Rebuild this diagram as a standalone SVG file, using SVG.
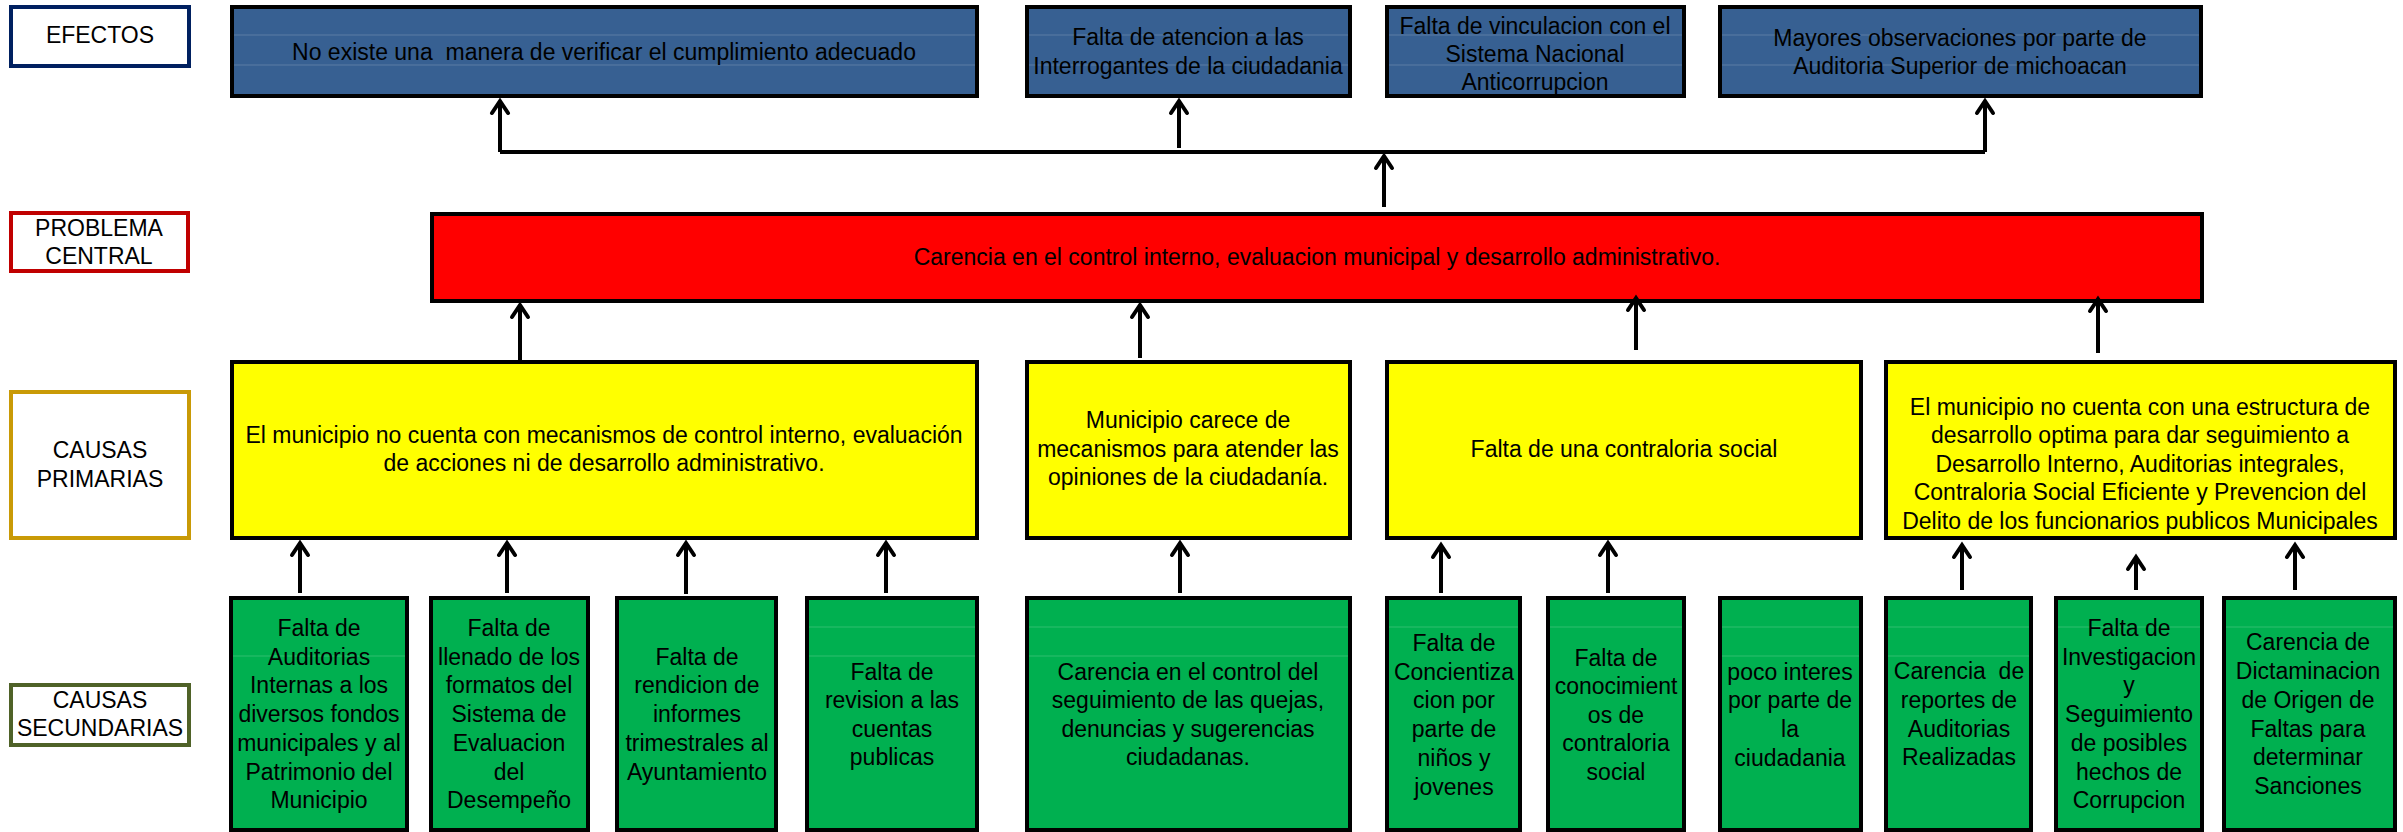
<svg xmlns="http://www.w3.org/2000/svg" width="2403" height="832" viewBox="0 0 2403 832">
<style>
text{font-family:"Liberation Sans",Arial,sans-serif;font-size:23px;fill:#000;text-anchor:middle}
.pre{white-space:pre}
.lbl{fill:#fff;stroke-width:4}
.eff{fill:#376092;stroke:#000;stroke-width:4}
.prob{fill:#ff0000;stroke:#000;stroke-width:4}
.prim{fill:#ffff00;stroke:#000;stroke-width:4}
.sec{fill:#00b050;stroke:#000;stroke-width:4}
.gl{stroke:#ffffff;stroke-opacity:0.12;stroke-width:1.5}
.con{stroke:#000;stroke-width:4;fill:none}
.arr{stroke:#000;stroke-width:4;fill:none;marker-end:url(#ah)}
</style>
<defs>
<marker id="ah" markerUnits="userSpaceOnUse" viewBox="-18 -12 22 24" markerWidth="22" markerHeight="24" refX="0" refY="0" orient="auto">
<path d="M -12 -8 L 0 0 L -12 8" fill="none" stroke="#000" stroke-width="4" stroke-linecap="round" stroke-linejoin="miter"/>
</marker>
</defs>
<rect width="2403" height="832" fill="#fff"/>

<!-- Row labels -->
<g id="lbl-efectos">
<rect class="lbl" x="11" y="7" width="178" height="59" stroke="#002060"/>
<text x="100" y="43">EFECTOS</text>
</g>
<g id="lbl-problema">
<rect class="lbl" x="11" y="213" width="177" height="58" stroke="#c00000"/>
<text x="99" y="236">PROBLEMA</text>
<text x="99" y="264">CENTRAL</text>
</g>
<g id="lbl-primarias">
<rect class="lbl" x="11" y="392" width="178" height="146" stroke="#c99a06"/>
<text x="100" y="458">CAUSAS</text>
<text x="100" y="487">PRIMARIAS</text>
</g>
<g id="lbl-secundarias">
<rect class="lbl" x="11" y="685" width="178" height="60" stroke="#4f6228"/>
<text x="100" y="708">CAUSAS</text>
<text x="100" y="736">SECUNDARIAS</text>
</g>

<!-- Effects -->
<g id="efecto1">
<rect class="eff" x="232" y="7" width="745" height="89"/>
<line class="gl" x1="234" y1="35" x2="975" y2="35"/><line class="gl" x1="234" y1="65" x2="975" y2="65"/>
<text class="pre" x="604" y="60">No existe una  manera de verificar el cumplimiento adecuado</text>
</g>
<g id="efecto2">
<rect class="eff" x="1027" y="7" width="323" height="89"/>
<line class="gl" x1="1029" y1="35" x2="1348" y2="35"/><line class="gl" x1="1029" y1="65" x2="1348" y2="65"/>
<text x="1188" y="45">Falta de atencion a las</text>
<text x="1188" y="74">Interrogantes de la ciudadania</text>
</g>
<g id="efecto3">
<rect class="eff" x="1387" y="7" width="297" height="89"/>
<line class="gl" x1="1389" y1="35" x2="1682" y2="35"/><line class="gl" x1="1389" y1="65" x2="1682" y2="65"/>
<text x="1535" y="34">Falta de vinculacion con el</text>
<text x="1535" y="62">Sistema Nacional</text>
<text x="1535" y="90">Anticorrupcion</text>
</g>
<g id="efecto4">
<rect class="eff" x="1720" y="7" width="481" height="89"/>
<line class="gl" x1="1722" y1="35" x2="2199" y2="35"/><line class="gl" x1="1722" y1="65" x2="2199" y2="65"/>
<text x="1960" y="46">Mayores observaciones por parte de</text>
<text x="1960" y="74">Auditoria Superior de michoacan</text>
</g>

<!-- Central problem -->
<g id="problema">
<rect class="prob" x="432" y="214" width="1770" height="87"/>
<text x="1317" y="265">Carencia en el control interno, evaluacion municipal y desarrollo administrativo.</text>
</g>

<!-- Primary causes -->
<g id="primaria1">
<rect class="prim" x="232" y="362" width="745" height="176"/>
<text x="604" y="443">El municipio no cuenta con mecanismos de control interno, evaluación</text>
<text x="604" y="471">de acciones ni de desarrollo administrativo.</text>
</g>
<g id="primaria2">
<rect class="prim" x="1027" y="362" width="323" height="176"/>
<text x="1188" y="428">Municipio carece de</text>
<text x="1188" y="457">mecanismos para atender las</text>
<text x="1188" y="485">opiniones de la ciudadanía.</text>
</g>
<g id="primaria3">
<rect class="prim" x="1387" y="362" width="474" height="176"/>
<text x="1624" y="457">Falta de una contraloria social</text>
</g>
<g id="primaria4">
<rect class="prim" x="1886" y="362" width="509" height="176"/>
<text x="2140" y="415">El municipio no cuenta con una estructura de</text>
<text x="2140" y="443">desarrollo optima para dar seguimiento a</text>
<text x="2140" y="472">Desarrollo Interno, Auditorias integrales,</text>
<text x="2140" y="500">Contraloria Social Eficiente y Prevencion del</text>
<text x="2140" y="529">Delito de los funcionarios publicos Municipales</text>
</g>

<!-- Secondary causes -->
<g id="secundaria1">
<rect class="sec" x="231" y="598" width="176" height="232"/>
<line class="gl" x1="233" y1="656" x2="405" y2="656"/>
<text x="319" y="636">Falta de</text>
<text x="319" y="665">Auditorias</text>
<text x="319" y="693">Internas a los</text>
<text x="319" y="722">diversos fondos</text>
<text x="319" y="751">municipales y al</text>
<text x="319" y="780">Patrimonio del</text>
<text x="319" y="808">Municipio</text>
</g>
<g id="secundaria2">
<rect class="sec" x="431" y="598" width="157" height="232"/>
<text x="509" y="636">Falta de</text>
<text x="509" y="665">llenado de los</text>
<text x="509" y="693">formatos del</text>
<text x="509" y="722">Sistema de</text>
<text x="509" y="751">Evaluacion</text>
<text x="509" y="780">del</text>
<text x="509" y="808">Desempeño</text>
</g>
<g id="secundaria3">
<rect class="sec" x="617" y="598" width="159" height="232"/>
<text x="697" y="665">Falta de</text>
<text x="697" y="693">rendicion de</text>
<text x="697" y="722">informes</text>
<text x="697" y="751">trimestrales al</text>
<text x="697" y="780">Ayuntamiento</text>
</g>
<g id="secundaria4">
<rect class="sec" x="807" y="598" width="170" height="232"/>
<line class="gl" x1="809" y1="627" x2="975" y2="627"/><line class="gl" x1="809" y1="656" x2="975" y2="656"/>
<text x="892" y="680">Falta de</text>
<text x="892" y="708">revision a las</text>
<text x="892" y="737">cuentas</text>
<text x="892" y="765">publicas</text>
</g>
<g id="secundaria5">
<rect class="sec" x="1027" y="598" width="323" height="232"/>
<line class="gl" x1="1029" y1="627" x2="1348" y2="627"/><line class="gl" x1="1029" y1="656" x2="1348" y2="656"/>
<text x="1188" y="680">Carencia en el control del</text>
<text x="1188" y="708">seguimiento de las quejas,</text>
<text x="1188" y="737">denuncias y sugerencias</text>
<text x="1188" y="765">ciudadanas.</text>
</g>
<g id="secundaria6">
<rect class="sec" x="1387" y="598" width="133" height="232"/>
<line class="gl" x1="1389" y1="627" x2="1518" y2="627"/>
<text x="1454" y="651">Falta de</text>
<text x="1454" y="680">Concientiza</text>
<text x="1454" y="708">cion por</text>
<text x="1454" y="737">parte de</text>
<text x="1454" y="766">niños y</text>
<text x="1454" y="795">jovenes</text>
</g>
<g id="secundaria7">
<rect class="sec" x="1548" y="598" width="136" height="232"/>
<line class="gl" x1="1550" y1="627" x2="1682" y2="627"/>
<text x="1616" y="666">Falta de</text>
<text x="1616" y="694">conocimient</text>
<text x="1616" y="723">os de</text>
<text x="1616" y="751">contraloria</text>
<text x="1616" y="780">social</text>
</g>
<g id="secundaria8">
<rect class="sec" x="1720" y="598" width="141" height="232"/>
<line class="gl" x1="1722" y1="627" x2="1859" y2="627"/><line class="gl" x1="1722" y1="656" x2="1859" y2="656"/>
<text x="1790" y="680">poco interes</text>
<text x="1790" y="708">por parte de</text>
<text x="1790" y="737">la</text>
<text x="1790" y="766">ciudadania</text>
</g>
<g id="secundaria9">
<rect class="sec" x="1886" y="598" width="145" height="232"/>
<line class="gl" x1="1888" y1="627" x2="2029" y2="627"/><line class="gl" x1="1888" y1="656" x2="2029" y2="656"/>
<text class="pre" x="1959" y="679">Carencia  de</text>
<text x="1959" y="708">reportes de</text>
<text x="1959" y="737">Auditorias</text>
<text x="1959" y="765">Realizadas</text>
</g>
<g id="secundaria10">
<rect class="sec" x="2056" y="598" width="146" height="232"/>
<line class="gl" x1="2058" y1="627" x2="2200" y2="627"/>
<text x="2129" y="636">Falta de</text>
<text x="2129" y="665">Investigacion</text>
<text x="2129" y="693">y</text>
<text x="2129" y="722">Seguimiento</text>
<text x="2129" y="751">de posibles</text>
<text x="2129" y="780">hechos de</text>
<text x="2129" y="808">Corrupcion</text>
</g>
<g id="secundaria11">
<rect class="sec" x="2224" y="598" width="171" height="232"/>
<line class="gl" x1="2226" y1="627" x2="2393" y2="627"/>
<text x="2308" y="650">Carencia de</text>
<text x="2308" y="679">Dictaminacion</text>
<text x="2308" y="708">de Origen de</text>
<text x="2308" y="737">Faltas para</text>
<text x="2308" y="765">determinar</text>
<text x="2308" y="794">Sanciones</text>
</g>

<!-- Connectors -->
<g id="connectors">
<path class="con" d="M 500 152 L 1985 152" stroke-width="3"/>
<path class="arr" d="M 500 152 L 500 101"/>
<path class="arr" d="M 1179 148 L 1179 101"/>
<path class="arr" d="M 1985 152 L 1985 101"/>
<path class="arr" d="M 1384 207 L 1384 156"/>
<path class="arr" d="M 520 360 L 520 305"/>
<path class="arr" d="M 1140 358 L 1140 305"/>
<path class="arr" d="M 1636 350 L 1636 298"/>
<path class="arr" d="M 2098 353 L 2098 299"/>
<path class="arr" d="M 300 593 L 300 543"/>
<path class="arr" d="M 507 593 L 507 543"/>
<path class="arr" d="M 686 594 L 686 543"/>
<path class="arr" d="M 886 593 L 886 543"/>
<path class="arr" d="M 1180 593 L 1180 543"/>
<path class="arr" d="M 1441 593 L 1441 545"/>
<path class="arr" d="M 1608 593 L 1608 543"/>
<path class="arr" d="M 1962 590 L 1962 545"/>
<path class="arr" d="M 2136 590 L 2136 557"/>
<path class="arr" d="M 2295 590 L 2295 545"/>
</g>
</svg>
